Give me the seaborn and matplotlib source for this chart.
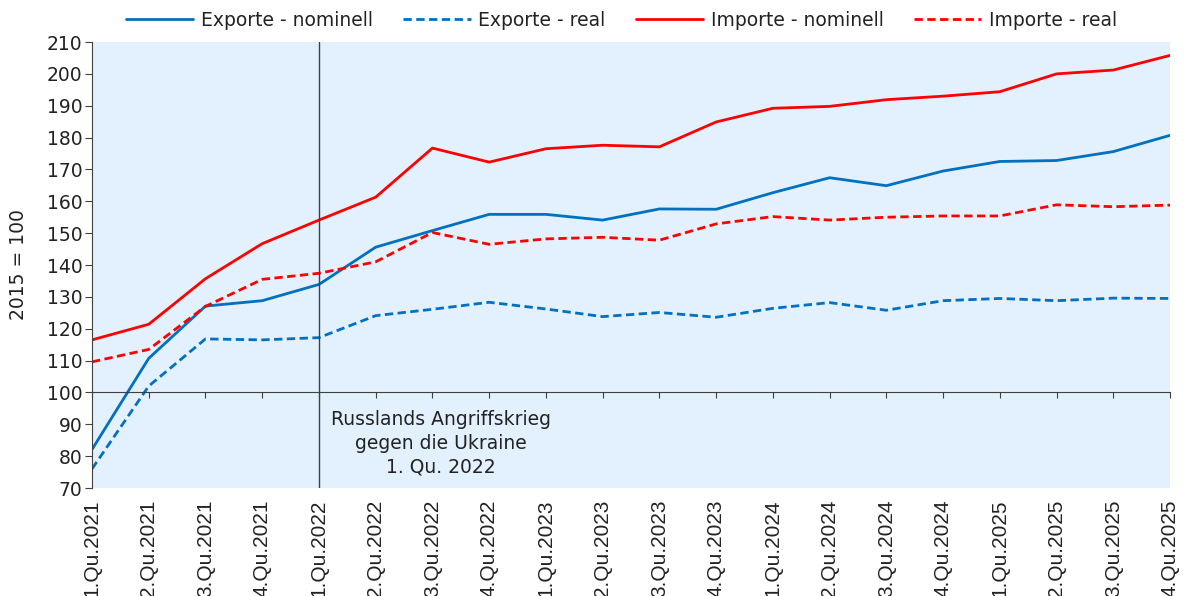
import pandas as pd
import seaborn as sns
import matplotlib.pyplot as plt
from matplotlib.lines import Line2D

# quartale und indexwerte (2015 = 100)
quartale = ['1.Qu.2021', '2.Qu.2021', '3.Qu.2021', '4.Qu.2021',
            '1.Qu.2022', '2.Qu.2022', '3.Qu.2022', '4.Qu.2022',
            '1.Qu.2023', '2.Qu.2023', '3.Qu.2023', '4.Qu.2023',
            '1.Qu.2024', '2.Qu.2024', '3.Qu.2024', '4.Qu.2024',
            '1.Qu.2025', '2.Qu.2025', '3.Qu.2025', '4.Qu.2025']
exporte_nominell = [82.1, 110.7, 127.1, 128.8, 133.9, 145.6, 150.8, 155.9, 155.9, 154.1,
                    157.6, 157.5, 162.7, 167.4, 164.9, 169.5, 172.5, 172.8, 175.6, 180.7]
exporte_real = [76.0, 102.0, 116.8, 116.5, 117.2, 124.1, 126.1, 128.3, 126.2, 123.8,
                125.1, 123.6, 126.4, 128.2, 125.8, 128.8, 129.5, 128.8, 129.6, 129.5]
importe_nominell = [116.5, 121.4, 135.7, 146.7, 154.1, 161.3, 176.7, 172.3, 176.5, 177.6,
                    177.1, 184.9, 189.2, 189.8, 191.9, 193.0, 194.4, 200.0, 201.2, 205.8]
importe_real = [109.6, 113.5, 127.0, 135.5, 137.4, 141.0, 150.2, 146.5, 148.2, 148.7,
                147.8, 152.9, 155.2, 154.1, 155.0, 155.4, 155.4, 158.9, 158.3, 158.8]

serien = ['Exporte - nominell', 'Exporte - real', 'Importe - nominell', 'Importe - real']
farben = {'Exporte - nominell': '#0070C0', 'Exporte - real': '#0070C0',
          'Importe - nominell': '#FF0000', 'Importe - real': '#FF0000'}
striche = {'Exporte - nominell': '', 'Exporte - real': (3, 1.6),
           'Importe - nominell': '', 'Importe - real': (3, 1.6)}

pos = list(range(len(quartale)))
df = pd.DataFrame({'pos': pos * 4,
                   'wert': exporte_nominell + exporte_real + importe_nominell + importe_real,
                   'serie': sum([[s] * len(quartale) for s in serien], [])})

sns.set_style('white')
plt.rcParams['font.family'] = ['DejaVu Sans']
fs = 13.5

fig = plt.figure(figsize=(11.84, 5.96), dpi=100)
ax = fig.add_axes([0.0777, 0.1812, 0.9105, 0.7483])
ax.set_facecolor('#E3F0FD')

sns.lineplot(data=df, x='pos', y='wert', hue='serie', style='serie', palette=farben,
             dashes=striche, linewidth=2.0, legend=False, ax=ax)

ax.set_xlim(0, len(quartale) - 1)
ax.set_ylim(70, 210)
ax.set_yticks(range(70, 211, 10))

# x-achse bei 100
for s in ['top', 'right']:
    ax.spines[s].set_visible(False)
ax.spines['bottom'].set_position(('data', 100))
ax.spines['bottom'].set_color('#404040')
ax.spines['left'].set_color('#404040')
ax.set_xticks(pos)
ax.tick_params(axis='x', bottom=True, direction='out', length=4, color='#404040', labelbottom=False)
ax.tick_params(axis='y', left=True, direction='out', length=5, color='#404040', pad=2,
               labelsize=fs, labelcolor='#222222')
ax.set_xlabel('')
ax.set_ylabel('2015 = 100', fontsize=fs, labelpad=13, color='#222222')

# beschriftung unten
sec = ax.secondary_xaxis(0)
sec.set_xticks(pos, quartale, rotation=90)
for lab in sec.get_xticklabels():
    lab.set_fontfamily('Liberation Sans')
    lab.set_fontsize(15)
    lab.set_color('#222222')
sec.tick_params(length=0, pad=8.5)
sec.spines['bottom'].set_visible(False)

# kriegsbeginn
ax.axvline(4, color='#404040', linewidth=1)
ax.text(6.15, 84, 'Russlands Angriffskrieg\ngegen die Ukraine\n1. Qu. 2022',
        ha='center', va='center', fontsize=fs, linespacing=1.3, color='#222222')

handles = [Line2D([], [], color=farben[s], linewidth=2.0,
                  linestyle='-' if striche[s] == '' else (0, striche[s])) for s in serien]
fig.legend(handles, serien, loc='center', bbox_to_anchor=(0.525, 0.966), ncol=4,
           frameon=False, handlelength=3.6, handletextpad=0.42, columnspacing=1.6,
           fontsize=fs, labelcolor='#222222')

fig.savefig('out.png', dpi=100)
